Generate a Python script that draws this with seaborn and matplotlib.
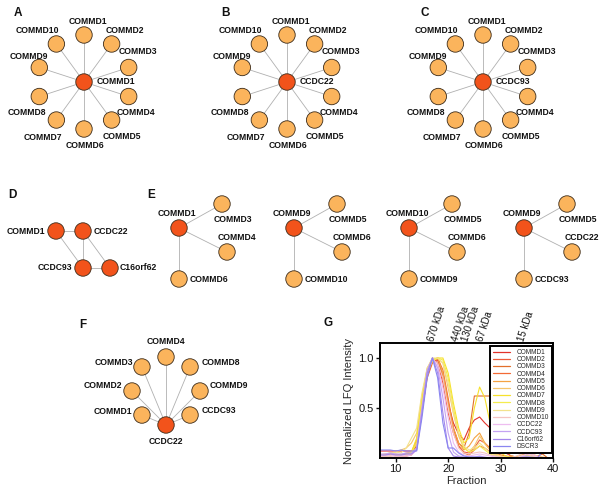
import numpy as np
import pandas as pd
import matplotlib
matplotlib.use("Agg")
import matplotlib.pyplot as plt
import seaborn as sns

sns.set_theme(style="white")
plt.rcParams['font.family'] = ['Liberation Sans', 'DejaVu Sans']

# ---------------- data ----------------
ring_members = ['COMMD1', 'COMMD2', 'COMMD3', 'COMMD4', 'COMMD5',
                'COMMD6', 'COMMD7', 'COMMD8', 'COMMD9', 'COMMD10']
ring_hubs = ['COMMD1', 'CCDC22', 'CCDC93']
ring_panel_labels = ['A', 'B', 'C']

d_nodes = ['COMMD1', 'CCDC22', 'CCDC93', 'C16orf62']
d_edges = [(0, 1), (0, 2), (1, 2), (1, 3), (2, 3)]

e_hubs = ['COMMD1', 'COMMD9', 'COMMD10', 'COMMD9']
e_partners = [['COMMD3', 'COMMD4', 'COMMD6'],
              ['COMMD5', 'COMMD6', 'COMMD10'],
              ['COMMD5', 'COMMD6', 'COMMD9'],
              ['COMMD5', 'CCDC22', 'CCDC93']]

f_hub = 'CCDC22'
f_partners = ['COMMD1', 'COMMD2', 'COMMD3', 'COMMD4', 'COMMD8', 'COMMD9', 'CCDC93']

fractions = list(range(7, 41))
proteins = ['COMMD1', 'COMMD2', 'COMMD3', 'COMMD4', 'COMMD5', 'COMMD6', 'COMMD7',
            'COMMD8', 'COMMD9', 'COMMD10', 'CCDC22', 'CCDC93', 'C16orf62', 'DSCR3']
commd1 = [0.07,0.07,0.07,0.07,0.07,0.07,0.07,0.10,0.45,0.82,0.97,0.98,0.80,0.55,0.35,0.24,0.18,0.30,0.38,0.41,0.35,0.30,0.22,0.12,0.05,0.02,0.01,0.02,0.03,0.02,0.01,0.0,0.0,0.0]
commd2 = [0.02,0.02,0.03,0.02,0.02,0.03,0.04,0.15,0.55,0.88,1.0,0.95,0.75,0.45,0.25,0.12,0.06,0.05,0.10,0.18,0.15,0.10,0.06,0.03,0.02,0.01,0.0,0.02,0.04,0.02,0.0,0.0,0.0,0.0]
commd3 = [0.03,0.03,0.04,0.03,0.03,0.04,0.05,0.12,0.50,0.85,0.98,1.0,0.82,0.55,0.30,0.15,0.10,0.25,0.62,0.62,0.62,0.62,0.45,0.20,0.06,0.02,0.01,0.02,0.05,0.03,0.02,0.04,0.0,0.0]
commd4 = [0.02,0.03,0.02,0.03,0.02,0.02,0.03,0.10,0.48,0.80,0.95,1.0,0.88,0.60,0.30,0.12,0.05,0.03,0.08,0.12,0.10,0.06,0.03,0.02,0.01,0.0,0.0,0.02,0.03,0.02,0.0,0.0,0.0,0.0]
commd5 = [0.02,0.02,0.03,0.04,0.03,0.05,0.06,0.18,0.58,0.85,0.97,1.0,0.85,0.55,0.30,0.15,0.08,0.12,0.20,0.25,0.15,0.08,0.05,0.02,0.01,0.0,0.0,0.03,0.05,0.02,0.0,0.0,0.0,0.0]
commd6 = [0.03,0.04,0.05,0.06,0.08,0.10,0.15,0.25,0.62,0.88,0.98,1.0,0.95,0.70,0.45,0.22,0.10,0.06,0.12,0.22,0.14,0.08,0.04,0.02,0.01,0.02,0.01,0.03,0.02,0.04,0.02,0.01,0.0,0.0]
commd7 = [0.02,0.02,0.03,0.02,0.03,0.04,0.06,0.20,0.60,0.90,0.98,1.0,1.0,0.85,0.55,0.30,0.15,0.20,0.50,0.71,0.60,0.35,0.15,0.05,0.02,0.0,0.0,0.02,0.03,0.02,0.0,0.0,0.0,0.0]
commd8 = [0.01,0.02,0.02,0.03,0.02,0.03,0.05,0.15,0.55,0.85,0.97,1.0,0.98,0.80,0.50,0.25,0.10,0.06,0.08,0.12,0.08,0.04,0.02,0.01,0.0,0.0,0.0,0.01,0.02,0.01,0.0,0.0,0.0,0.0]
commd9 = [0.03,0.04,0.05,0.06,0.05,0.10,0.20,0.30,0.65,0.90,1.0,1.0,0.95,0.75,0.45,0.25,0.12,0.08,0.10,0.15,0.10,0.05,0.03,0.02,0.01,0.0,0.0,0.02,0.03,0.02,0.01,0.0,0.0,0.0]
commd10 = [0.02,0.02,0.03,0.02,0.02,0.03,0.04,0.10,0.50,0.85,0.98,0.95,0.80,0.50,0.25,0.10,0.05,0.04,0.05,0.06,0.05,0.03,0.02,0.01,0.0,0.0,0.02,0.04,0.06,0.04,0.02,0.0,0.0,0.0]
ccdc22 = [0.02,0.02,0.02,0.02,0.02,0.02,0.03,0.08,0.45,0.85,1.0,0.92,0.70,0.40,0.15,0.06,0.03,0.02,0.03,0.04,0.03,0.02,0.01,0.0,0.0,0.0,0.0,0.02,0.04,0.03,0.01,0.0,0.0,0.0]
ccdc93 = [0.04,0.04,0.05,0.04,0.04,0.05,0.05,0.10,0.50,0.88,1.0,0.90,0.60,0.25,0.06,0.02,0.01,0.01,0.01,0.02,0.01,0.0,0.0,0.0,0.0,0.0,0.0,0.01,0.02,0.01,0.0,0.0,0.0,0.0]
c16orf62 = [0.03,0.03,0.04,0.03,0.03,0.04,0.04,0.08,0.45,0.85,1.0,0.85,0.45,0.10,0.02,0.01,0.0,0.0,0.0,0.01,0.0,0.0,0.0,0.0,0.0,0.0,0.0,0.0,0.01,0.0,0.0,0.0,0.0,0.0]
dscr3 = [0.08,0.08,0.08,0.07,0.08,0.07,0.07,0.07,0.40,0.80,1.0,0.80,0.35,0.10,0.10,0.05,0.02,0.01,0.01,0.01,0.0,0.0,0.0,0.0,0.0,0.0,0.0,0.0,0.0,0.0,0.0,0.06,0.10,0.12]
series = [commd1, commd2, commd3, commd4, commd5, commd6, commd7,
          commd8, commd9, commd10, ccdc22, ccdc93, c16orf62, dscr3]

kda_labels = ['670 kDa', '440 kDa', '130 kDa', '67 kDa', '15 kDa']
kda_fractions = [16.8, 21.3, 23.2, 26.1, 34.0]

line_colors = ['#e2332b', '#ee5b3a', '#e26f2a', '#f36a35', '#f4a342', '#f6c56c', '#f7e12c',
               '#f4ec4e', '#f3e28c', '#f5c4c2', '#eebdf0', '#c5a3f2', '#a587ec', '#8a86f0']

HUB = '#f2531b'
LEAF = '#fbb45c'
EDGE = '#b0b0b0'
NODE_EC = '#3b2a18'

# ---------------- figure ----------------
fig = plt.figure(figsize=(6.04, 4.97), dpi=100)
net = fig.add_axes([0, 0, 1, 1])
net.set_xlim(0, 604)
net.set_ylim(497, 0)
net.axis('off')

nodes, edges, labels = [], [], []

def add_node(x, y, kind):
    nodes.append({'x': x, 'y': y, 'kind': kind})

# ring panels A, B, C
ring_centers = [(84, 82), (287, 82), (483, 82)]
ring_r = 47
ring_lab_off = [(4, -13), (13, -13), (9, -16), (7, 16), (10, 16),
                (1, 17), (-13, 17), (-12, 16), (-10, -11), (-19, -13)]
for (cx, cy), hub in zip(ring_centers, ring_hubs):
    for i, name in enumerate(ring_members):
        ang = np.deg2rad(90 - 36 * i)
        x, y = cx + ring_r * np.cos(ang), cy - ring_r * np.sin(ang)
        edges.append((cx, cy, x, y))
        add_node(x, y, 'leaf')
        dx, dy = ring_lab_off[i]
        labels.append((x + dx, y + dy, name, 'center'))
    add_node(cx, cy, 'hub')
    labels.append((cx + 13, cy, hub, 'left'))

# panel D
d_pos = [(56, 231), (83, 231), (83, 268), (110, 268)]
d_lab = [(-11, 'right'), (11, 'left'), (-11, 'right'), (10, 'left')]
for a, b in d_edges:
    edges.append((*d_pos[a], *d_pos[b]))
for (x, y), name, (dx, ha) in zip(d_pos, d_nodes, d_lab):
    add_node(x, y, 'hub')
    labels.append((x + dx, y, name, ha))

# panel E
e_off = [(43, -24), (48, 24), (0, 51)]
e_lab = [(11, 16, 'center'), (10, -14, 'center'), (11, 1, 'left')]
for k, (hub, parts) in enumerate(zip(e_hubs, e_partners)):
    hx, hy = 179 + 115 * k, 228
    for (ox, oy), name, (dx, dy, ha) in zip(e_off, parts, e_lab):
        edges.append((hx, hy, hx + ox, hy + oy))
        add_node(hx + ox, hy + oy, 'leaf')
        labels.append((hx + ox + dx, hy + oy + dy, name, ha))
    add_node(hx, hy, 'hub')
    labels.append((hx - 2, hy - 15, hub, 'center'))

# panel F
fcx, fcy, fr = 166, 391, 34
f_angles = [-135, 180, 135, 90, 45, 0, -45]
f_lab = [(-10, -4, 'right'), (-10, -5, 'right'), (-9, -4, 'right'), (0, -16, 'center'),
         (12, -4, 'left'), (10, -5, 'left'), (12, -5, 'left')]
hx, hy = fcx, fcy + fr
for name, a, (dx, dy, ha) in zip(f_partners, f_angles, f_lab):
    x, y = fcx + fr * np.cos(np.deg2rad(a)), fcy - fr * np.sin(np.deg2rad(a))
    edges.append((hx, hy, x, y))
    add_node(x, y, 'leaf')
    labels.append((x + dx, y + dy, name, ha))
add_node(hx, hy, 'hub')
labels.append((hx, hy + 16, f_hub, 'center'))

for x1, y1, x2, y2 in edges:
    net.plot([x1, x2], [y1, y2], color=EDGE, lw=0.6, zorder=1)

node_df = pd.DataFrame(nodes)
sns.scatterplot(data=node_df, x='x', y='y', hue='kind',
                palette={'hub': HUB, 'leaf': LEAF}, s=140,
                edgecolor=NODE_EC, linewidth=0.6, legend=False, ax=net, zorder=3)
net.set_xlim(0, 604)
net.set_ylim(497, 0)
net.axis('off')

for x, y, t, ha in labels:
    net.text(x, y, t, ha=ha, va='center', fontsize=6.2, fontweight='bold', color='#111111', zorder=4)

panel_letters = [('A', 18, 13), ('B', 226, 13), ('C', 425, 13), ('D', 12, 195),
                 ('E', 151, 195), ('F', 83, 325), ('G', 328, 323)]
for t, x, y in panel_letters:
    net.text(x, y, t, ha='center', va='center', fontsize=8.5, fontweight='bold', color='#111111')

# ---------------- panel G ----------------
L, R, T, B = 380, 553, 343, 458
ax = fig.add_axes([L / 604, 1 - B / 497, (R - L) / 604, (B - T) / 497])
rows = []
for p, vals in zip(proteins, series):
    for f, v in zip(fractions, vals):
        rows.append({'Fraction': f, 'Intensity': v, 'Protein': p})
df = pd.DataFrame(rows)
sns.lineplot(data=df, x='Fraction', y='Intensity', hue='Protein', hue_order=proteins,
             palette=dict(zip(proteins, line_colors)), lw=0.8, ax=ax, legend=True)
ax.set_xlim(7, 40)
ax.set_ylim(0, 1.15)
ax.set_xticks([10, 20, 30, 40])
ax.set_yticks([0.5, 1.0])
ax.set_yticklabels(['0.5', '1.0'])
ax.set_xlabel('Fraction', fontsize=8, labelpad=1)
ax.set_ylabel('Normalized LFQ Intensity', fontsize=8, labelpad=3)
ax.tick_params(axis='both', labelsize=8, length=3, width=1, direction='out',
               bottom=True, left=True, pad=1.5, colors='#111111')
for s in ax.spines.values():
    s.set_visible(True)
    s.set_color('black')
    s.set_linewidth(1.4)

handles, labs = ax.get_legend_handles_labels()
leg = ax.legend(handles, labs, loc='upper right', bbox_to_anchor=(0.995, 0.975),
                fontsize=4.7, frameon=True, fancybox=False, borderaxespad=0,
                handlelength=2.6, handletextpad=1.0, labelspacing=0.04,
                borderpad=0.45)
leg.get_frame().set_edgecolor('black')
leg.get_frame().set_linewidth(1.4)
leg.get_frame().set_alpha(1)
for h in leg.get_lines():
    h.set_linewidth(0.9)

for t, f in zip(kda_labels, kda_fractions):
    ax.text(f, 1.17, t, rotation=72, rotation_mode='anchor', ha='left', va='center',
            fontsize=7, clip_on=False, color='#111111')

fig.savefig('out.png', dpi=100)
